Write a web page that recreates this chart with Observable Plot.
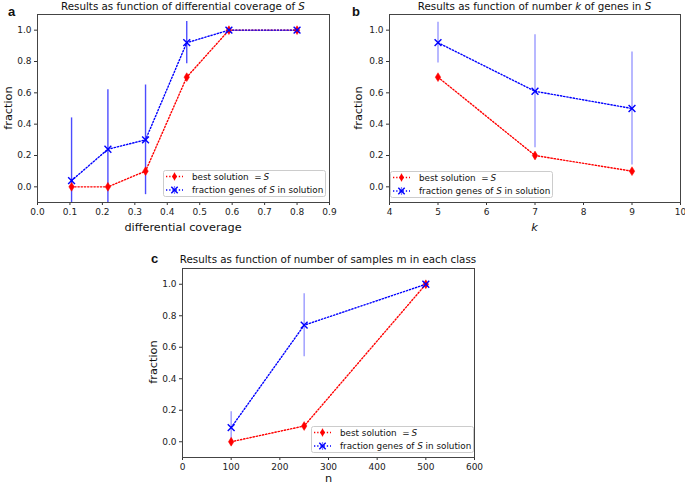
<!DOCTYPE html>
<html><head><meta charset="utf-8">
<script src="https://cdn.jsdelivr.net/npm/d3@7"></script>
<script src="https://cdn.jsdelivr.net/npm/@observablehq/plot@0.6"></script>
<style>
body{margin:0;background:#fff;}
#root{position:relative;width:685px;height:484px;overflow:hidden;background:#fff;}
#root svg{position:absolute;left:0;top:0;}
</style></head><body><div id="root"></div>
<script>
// ---- Panel a: differential coverage ----
const covX = [0.105, 0.217, 0.333, 0.46, 0.59, 0.80];
const covBest = [0.0, 0.0, 0.10, 0.70, 1.0, 1.0];
const covFrac = [0.04, 0.24, 0.30, 0.92, 1.0, 1.0];
const covFracErr = [0.40, 0.38, 0.35, 0.135, 0.0, 0.0];
const covXTicks = [0.0, 0.1, 0.2, 0.3, 0.4, 0.5, 0.6, 0.7, 0.8, 0.9];
// ---- Panel b: number k of genes ----
const kX = [5, 7, 9];
const kBest = [0.70, 0.20, 0.10];
const kFrac = [0.92, 0.61, 0.50];
const kFracErr = [0.13, 0.36, 0.36];
const kXTicks = [4, 5, 6, 7, 8, 9, 10];
// ---- Panel c: number of samples ----
const nX = [100, 250, 500];
const nBest = [0.0, 0.10, 1.0];
const nFrac = [0.09, 0.74, 1.0];
const nFracErr = [0.10, 0.20, 0.0];
const nXTicks = [0, 100, 200, 300, 400, 500, 600];
// shared y ticks
const fracTicks = [0.0, 0.2, 0.4, 0.6, 0.8, 1.0];

const legendLabels = ["best solution", "fraction genes of ", "S", " in solution"];

const RED = "#ff0000", BLUE = "#0000ff";
const DOTS = "1.3,1.9";
const thinDiamond = {
  draw(ctx, size) {
    const r = Math.sqrt(size / Math.PI);
    const w = r * 0.62;
    ctx.moveTo(0, -r); ctx.lineTo(w, 0); ctx.lineTo(0, r); ctx.lineTo(-w, 0); ctx.closePath();
  }
};

function panel({xs, best, frac, err, xDomain, xTicks, xFormat, m, errOpacity}) {
  const rows = xs.map((x, i) => ({x, best: best[i], frac: frac[i], err: err[i]}));
  return Plot.plot({
    width: 685, height: 484,
    marginLeft: m[0], marginRight: m[1], marginTop: m[2], marginBottom: m[3],
    x: {domain: xDomain},
    y: {domain: [-0.1, 1.1]},
    style: {fontFamily: "DejaVu Sans", fontSize: "9px", color: "#222", background: "transparent", overflow: "visible"},
    marks: [
      Plot.ruleX(rows.filter(d => d.err > 0), {x: "x", y1: d => d.frac - d.err, y2: d => d.frac + d.err,
        stroke: BLUE, strokeOpacity: errOpacity, strokeWidth: 1.4, clip: true}),
      Plot.line(rows, {x: "x", y: "best", stroke: RED, strokeWidth: 1.4, strokeDasharray: DOTS}),
      Plot.line(rows, {x: "x", y: "frac", stroke: BLUE, strokeWidth: 1.4, strokeDasharray: DOTS}),
      Plot.dot(rows, {x: "x", y: "best", symbol: thinDiamond, r: 4.4, fill: RED, stroke: RED, strokeWidth: 0.5}),
      Plot.dot(rows, {x: "x", y: "frac", symbol: "times", r: 3.2, fill: "none", stroke: BLUE, strokeWidth: 1.4}),
      Plot.axisX({ticks: xTicks, tickFormat: xFormat, tickSize: 3, tickPadding: 3, label: null, stroke: "#333"}),
      Plot.axisY({ticks: fracTicks, tickFormat: ".1f", tickSize: 3, tickPadding: 3, label: null, stroke: "#333"}),
      Plot.frame({stroke: "#444", strokeWidth: 1})
    ]
  });
}

const root = document.getElementById("root");
root.appendChild(panel({xs: covX, best: covBest, frac: covFrac, err: covFracErr,
  xDomain: [0, 0.9], xTicks: covXTicks, xFormat: ".1f", m: [37, 356, 14, 282], errOpacity: 0.7}));
root.appendChild(panel({xs: kX, best: kBest, frac: kFrac, err: kFracErr,
  xDomain: [4, 10], xTicks: kXTicks, xFormat: "d", m: [389, 5, 14, 282], errOpacity: 0.4}));
root.appendChild(panel({xs: nX, best: nBest, frac: nFrac, err: nFracErr,
  xDomain: [0, 600], xTicks: nXTicks, xFormat: "d", m: [182, 211, 268, 27], errOpacity: 0.4}));

// ---- text overlay: titles, labels, panel letters, legends ----
const svg = d3.select(root).append("svg").attr("width", 685).attr("height", 484)
  .attr("font-family", "'DejaVu Sans'");

function txt(x, y, parts, {size = 10.3, anchor = "middle", weight = "normal", family = null, rotate = false} = {}) {
  const t = svg.append("text").attr("text-anchor", anchor).attr("font-size", size)
    .attr("font-weight", weight).attr("fill", "#111");
  if (family) t.attr("font-family", family);
  if (rotate) t.attr("transform", `translate(${x},${y}) rotate(-90)`); else t.attr("x", x).attr("y", y);
  for (const [s, it] of parts) t.append("tspan").attr("font-style", it ? "italic" : "normal").text(s);
  return t;
}

// panel letters
txt(8, 16, [["a", 0]], {size: 13, anchor: "start", weight: "bold", family: "'Liberation Sans'"});
txt(352, 16, [["b", 0]], {size: 13, anchor: "start", weight: "bold", family: "'Liberation Sans'"});
txt(151, 263, [["c", 0]], {size: 13, anchor: "start", weight: "bold", family: "'Liberation Sans'"});
// titles
txt(183, 10, [["Results as function of differential coverage of ", 0], ["S", 1]]);
txt(534.5, 10, [["Results as function of number ", 0], ["k", 1], [" of genes in ", 0], ["S", 1]]);
txt(328, 263, [["Results as function of number of samples m in each class", 0]]);
// axis labels
txt(183, 231, [["differential coverage", 0]], {size: 11.3});
txt(534.5, 231, [["k", 1]], {size: 11.3});
txt(328.5, 482, [["n", 0]], {size: 11.3});
txt(11.5, 108, [["fraction", 0]], {size: 11.3, rotate: true});
txt(361.5, 108, [["fraction", 0]], {size: 11.3, rotate: true});
txt(156.5, 362, [["fraction", 0]], {size: 11.3, rotate: true});

function legend(x0, y0) {
  const g = svg.append("g").attr("transform", `translate(${x0},${y0})`);
  g.append("rect").attr("x", 0.5).attr("y", 0.5).attr("width", 162).attr("height", 26).attr("rx", 2)
    .attr("fill", "#fff").attr("fill-opacity", 0.8).attr("stroke", "#ccc");
  const rowsY = [6.5, 20];
  [[RED, 0], [BLUE, 1]].forEach(([c, i]) => {
    const y = rowsY[i];
    g.append("line").attr("x1", 3).attr("x2", 20).attr("y1", y).attr("y2", y)
      .attr("stroke", c).attr("stroke-width", 1.4).attr("stroke-dasharray", DOTS);
    g.append("line").attr("x1", 11.5).attr("x2", 11.5).attr("y1", y - 4).attr("y2", y + 4)
      .attr("stroke", c).attr("stroke-opacity", 0.5).attr("stroke-width", 1.2);
    if (i === 0) {
      g.append("path").attr("d", d3.symbol(thinDiamond, Math.PI * 4 * 4)()).attr("transform", `translate(11.5,${y})`)
        .attr("fill", c);
    } else {
      g.append("path").attr("d", d3.symbol(d3.symbolTimes, Math.PI * 3 * 3)()).attr("transform", `translate(11.5,${y})`)
        .attr("fill", "none").attr("stroke", c).attr("stroke-width", 1.4);
    }
  });
  const t1 = g.append("text").attr("x", 29).attr("y", rowsY[0] + 3.3).attr("font-size", 8.8).attr("fill", "#111");
  t1.append("tspan").text(legendLabels[0] + "\u00a0\u00a0=\u2009");
  t1.append("tspan").attr("font-style", "italic").text("S");
  const t2 = g.append("text").attr("x", 29).attr("y", rowsY[1] + 3.3).attr("font-size", 8.8).attr("fill", "#111");
  t2.append("tspan").text(legendLabels[1]);
  t2.append("tspan").attr("font-style", "italic").text(legendLabels[2]);
  t2.append("tspan").text(legendLabels[3]);
}
legend(163, 170);
legend(390, 171);
legend(311, 426);
</script></body></html>
